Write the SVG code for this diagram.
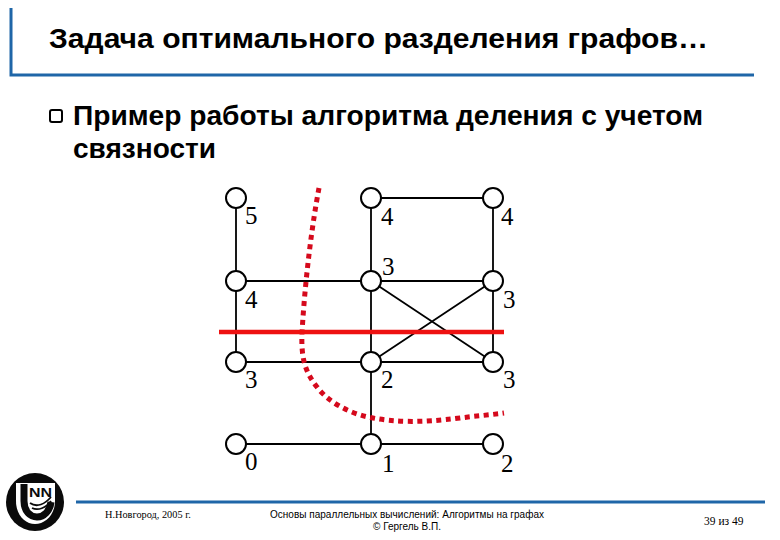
<svg xmlns="http://www.w3.org/2000/svg" width="780" height="540" viewBox="0 0 780 540">
<style>
.t{font-family:"Liberation Sans",Arial,sans-serif;font-weight:bold;font-size:27px;fill:#000}
.e{fill:none;stroke:#000;stroke-width:1.8}
.n{fill:#fff;stroke:#000;stroke-width:2}
.v{font-family:"Liberation Serif","Times New Roman",serif;font-size:25px;fill:#000}
.f{font-family:"Liberation Sans",Arial,sans-serif;font-size:10px;fill:#000;text-anchor:middle}
.g{font-family:"Liberation Serif","Times New Roman",serif;font-size:10.3px;fill:#000}
.b{fill:none;stroke:#1f66a8;stroke-width:3}
.k{fill:none;stroke:#0a0a0a}
</style>
<rect width="780" height="540" fill="#fff"/>
<g id="frame">
<path class="b" d="M11 8V75H754"/>
<path class="b" d="M76 502H765"/>
</g>
<text class="t" x="49" y="48" textLength="659" lengthAdjust="spacingAndGlyphs">Задача оптимального разделения графов…</text>
<rect x="50" y="110" width="12" height="12" rx="2" fill="#fff" stroke="#000" stroke-width="2"/>
<text class="t" x="73" y="125" textLength="630" lengthAdjust="spacingAndGlyphs">Пример работы алгоритма деления с учетом</text>
<text class="t" x="73" y="158" textLength="143" lengthAdjust="spacingAndGlyphs">связности</text>
<g id="connectors">
<path class="e" d="M236 198V362M371 198V444M493 198V362M371 198H493M236 281H493M236 362H493M236 444H493M371 281L493 362M371 362L493 281"/>
</g>
<g id="cuts">
<path d="M319 188C312 225 305 280 302 333C301 358 305 372 317 387C328 402 350 414 373 418C395 422 420 423 460 418C475 416 490 415 504 413" fill="none" stroke="#d5091c" stroke-width="5" stroke-dasharray="5 4.5"/>
<path d="M219 332H504" stroke="#ee1111" stroke-width="4.5"/>
</g>
<g id="n5"><circle class="n" cx="236" cy="198" r="10"/><text class="v" x="245" y="224">5</text></g>
<g id="n4a"><circle class="n" cx="371" cy="198" r="10"/><text class="v" x="381" y="225">4</text></g>
<g id="n4b"><circle class="n" cx="493" cy="198" r="10"/><text class="v" x="501" y="225">4</text></g>
<g id="n4c"><circle class="n" cx="236" cy="281" r="10"/><text class="v" x="245" y="308">4</text></g>
<g id="n3a"><circle class="n" cx="371" cy="281" r="10"/><text class="v" x="382" y="275">3</text></g>
<g id="n3b"><circle class="n" cx="493" cy="281" r="10"/><text class="v" x="503" y="308">3</text></g>
<g id="n3c"><circle class="n" cx="236" cy="362" r="10"/><text class="v" x="245" y="388">3</text></g>
<g id="n2a"><circle class="n" cx="371" cy="362" r="10"/><text class="v" x="381" y="388">2</text></g>
<g id="n3d"><circle class="n" cx="493" cy="362" r="10"/><text class="v" x="503" y="388">3</text></g>
<g id="n0"><circle class="n" cx="236" cy="444" r="10"/><text class="v" x="245" y="470">0</text></g>
<g id="n1"><circle class="n" cx="371" cy="444" r="10"/><text class="v" x="382" y="472">1</text></g>
<g id="n2b"><circle class="n" cx="493" cy="444" r="10"/><text class="v" x="501" y="472">2</text></g>
<g id="logo">
<circle cx="35" cy="502" r="29" fill="#0a0a0a"/>
<path d="M16 483H55V501C55 515 45 524 35 524C25 524 16 515 16 501Z" fill="#fff"/>
<path class="k" stroke-width="7" d="M24 484V501C24 511 30 517 37 517C44 517 50 511 51 502"/>
<path class="k" stroke-width="1.8" d="M30 503C37 508 45 504 51 497M32 508C38 511 46 508 51 501"/>
<text x="29" y="497" font-family="Liberation Sans,sans-serif" font-weight="bold" font-size="13" fill="#0a0a0a" textLength="23" lengthAdjust="spacingAndGlyphs">NN</text>
</g>
<text class="g" x="105" y="518">Н.Новгород, 2005 г.</text>
<text class="f" x="407" y="518" textLength="274" lengthAdjust="spacing">Основы параллельных вычислений: Алгоритмы на графах</text>
<text class="f" x="407" y="530">© Гергель В.П.</text>
<text class="g" x="704" y="525" style="font-size:11.5px">39 из 49</text>
</svg>
